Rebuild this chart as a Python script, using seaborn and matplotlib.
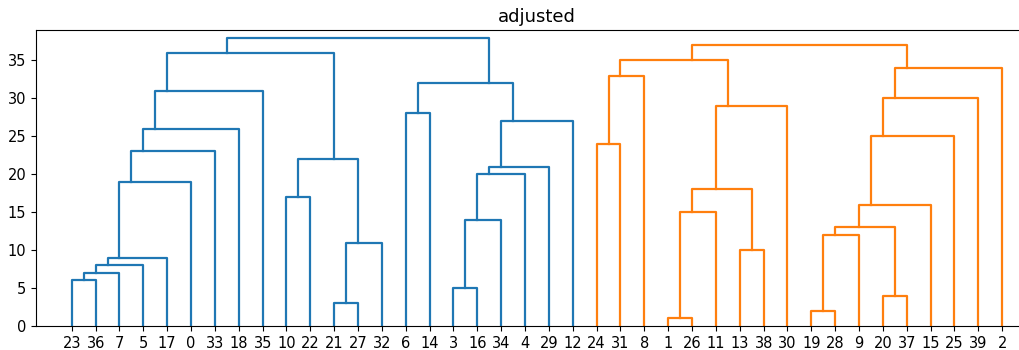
import matplotlib
matplotlib.use("Agg")
import matplotlib.pyplot as plt
import pandas as pd
import seaborn as sns

# Hierarchical merges (scipy-style ids: leaves 0..39, merge k gets id 40 + k)
merge_left = [23, 40, 41, 42, 43, 44, 45, 46, 10, 21, 49, 48, 47, 6, 3, 54, 55, 56, 57, 53, 52,
              24, 61, 1, 63, 13, 64, 66, 62, 19, 69, 20, 70, 72, 73, 74, 75, 68]
merge_right = [36, 7, 5, 17, 0, 33, 18, 35, 22, 27, 32, 50, 51, 14, 16, 34, 4, 29, 12, 58, 59,
               31, 8, 26, 11, 38, 65, 30, 67, 28, 9, 37, 71, 15, 25, 39, 2, 76]
merge_height = [6, 7, 8, 9, 19, 23, 26, 31, 17, 3, 11, 22, 36, 28, 5, 14, 20, 21, 27, 32, 38,
                24, 33, 1, 15, 10, 18, 29, 35, 2, 12, 4, 13, 16, 25, 30, 34, 37]
merge_group = ["C0"] * 21 + ["C1"] * 17
roots = [60, 77]
n_leaves = 40

children = {n_leaves + k: (l, r) for k, (l, r) in enumerate(zip(merge_left, merge_right))}
height = {n_leaves + k: h for k, h in enumerate(merge_height)}

# Leaf order from a left-first traversal of each tree
leaf_order = []


def walk(node):
    if node < n_leaves:
        leaf_order.append(node)
    else:
        walk(children[node][0])
        walk(children[node][1])


for r in roots:
    walk(r)

xpos = {leaf: float(i) for i, leaf in enumerate(leaf_order)}
size = {leaf: 1 for leaf in leaf_order}


def place(node):
    # Adjusted layout: a node sits at the mean position of all its leaves
    if node < n_leaves:
        return
    l, r = children[node]
    place(l)
    place(r)
    size[node] = size[l] + size[r]
    xpos[node] = (xpos[l] * size[l] + xpos[r] * size[r]) / size[node]


for r in roots:
    place(r)

# One U-shaped link per merge
rows = []
for k in range(len(merge_height)):
    node = n_leaves + k
    l, r = children[node]
    yl = 0.0 if l < n_leaves else height[l]
    yr = 0.0 if r < n_leaves else height[r]
    h = height[node]
    pts = [(xpos[l], yl), (xpos[l], h), (xpos[r], h), (xpos[r], yr)]
    for order, (x, y) in enumerate(pts):
        rows.append({"link": k, "order": order, "x": x, "y": y, "group": merge_group[k]})
links = pd.DataFrame(rows)

fig = plt.figure(figsize=(10.2, 3.5), dpi=100)
ax = fig.add_axes([36 / 1020, 24 / 350, 1002 / 1020, 296 / 350])

sns.lineplot(data=links, x="x", y="y", units="link", estimator=None, sort=False,
             hue="group", palette={"C0": "#1f77b4", "C1": "#ff7f0e"},
             linewidth=1.6, legend=False, ax=ax)

ax.set_xlim(-1.5, n_leaves + 0.5)
ax.set_ylim(0, 39)
ax.set_xticks(range(n_leaves))
ax.set_xticklabels([str(v) for v in leaf_order])
ax.set_yticks([0, 5, 10, 15, 20, 25, 30, 35])
ax.tick_params(labelsize=10.5)
ax.set_xlabel("")
ax.set_ylabel("")
ax.set_title("adjusted", fontsize=13)

fig.savefig("out.png", dpi=100)
